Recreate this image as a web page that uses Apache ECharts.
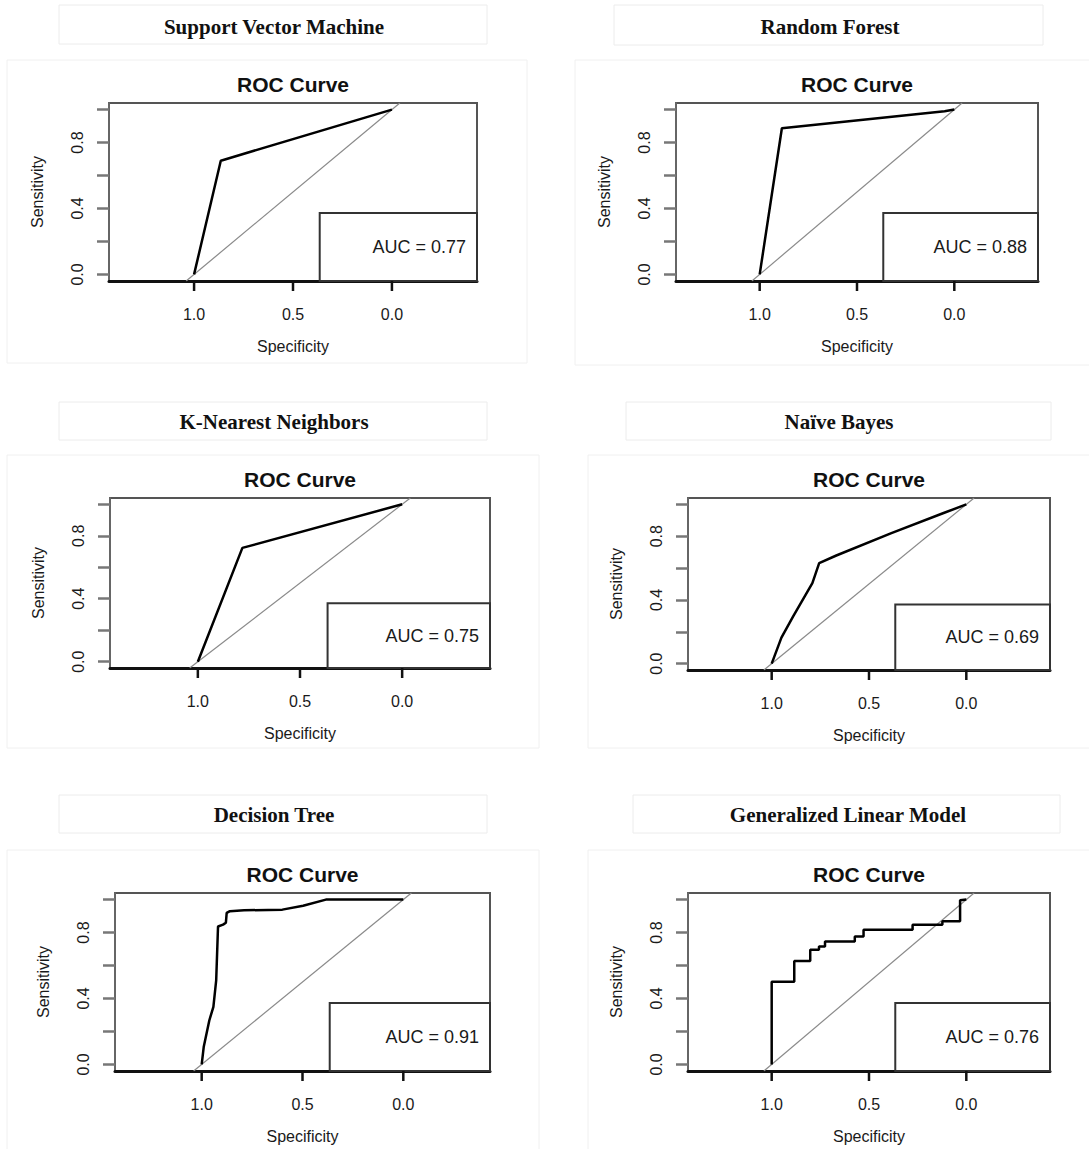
<!DOCTYPE html>
<html>
<head>
<meta charset="utf-8">
<script src="https://cdn.jsdelivr.net/npm/echarts@6/dist/echarts.min.js"></script>
<style>
html,body{margin:0;padding:0;background:#fff;}
#chart{width:1089px;height:1149px;}
</style>
</head>
<body>
<div id="chart"></div>
<script>
// ---------- data ----------
const modelNames = ['Support Vector Machine', 'Random Forest', 'K-Nearest Neighbors', 'Naïve Bayes', 'Decision Tree', 'Generalized Linear Model'];
const aucLabels = ['0.77', '0.88', '0.75', '0.69', '0.91', '0.76'];
const plotTitle = 'ROC Curve';
const xAxisTitle = 'Specificity';
const yAxisTitle = 'Sensitivity';

const svmSpec = [1.0, 0.865, 0.0];
const svmSens = [0.0, 0.69, 1.0];
const rfSpec = [1.0, 0.886, 0.05, 0.0];
const rfSens = [0.0, 0.887, 0.99, 1.0];
const knnSpec = [1.0, 0.782, 0.0];
const knnSens = [0.0, 0.723, 1.0];
const nbSpec = [1.0, 0.95, 0.889, 0.791, 0.756, 0.668, 0.385, 0.12, 0.0];
const nbSens = [0.0, 0.163, 0.298, 0.506, 0.631, 0.679, 0.819, 0.944, 1.0];
const dtSpec = [1.0, 0.99, 0.962, 0.942, 0.928, 0.919, 0.894, 0.88, 0.876, 0.86, 0.79, 0.6, 0.497, 0.384, 0.0];
const dtSens = [0.0, 0.105, 0.268, 0.349, 0.512, 0.837, 0.848, 0.86, 0.919, 0.93, 0.935, 0.939, 0.963, 1.0, 1.0];
const glmSpec = [1.0, 1.0, 0.884, 0.884, 0.802, 0.802, 0.757, 0.757, 0.726, 0.726, 0.573, 0.573, 0.528, 0.528, 0.276, 0.276, 0.123, 0.123, 0.032, 0.032, 0.0];
const glmSens = [0.0, 0.502, 0.502, 0.628, 0.628, 0.695, 0.695, 0.715, 0.715, 0.746, 0.746, 0.776, 0.776, 0.817, 0.817, 0.848, 0.848, 0.868, 0.868, 0.996, 1.0];

const chanceSpec = [1.04, -0.04];
const chanceSens = [-0.04, 1.04];

const xTickValues = [0, 0.5, 1.0];
const yTickValues = [0, 0.2, 0.4, 0.6, 0.8, 1.0];
const yLabelValues = [0, 0.4, 0.8];

const curves = [[svmSpec, svmSens], [rfSpec, rfSens], [knnSpec, knnSens], [nbSpec, nbSens], [dtSpec, dtSens], [glmSpec, glmSens]];

// ---------- layout (pixels) ----------
const layout = [
  {grid: [109, 103, 368, 178], title: [274, 27], box: [59, 5, 428, 39], panel: [7, 60, 520, 303]},
  {grid: [676, 103, 362, 178], title: [830, 27], box: [614, 5, 429, 40], panel: [575, 60, 520, 305]},
  {grid: [110, 498, 380, 170], title: [274, 422], box: [59, 402, 428, 38], panel: [7, 455, 532, 293]},
  {grid: [688, 498, 362, 172], title: [839, 422], box: [626, 402, 425, 38], panel: [588, 455, 520, 293]},
  {grid: [115, 893, 375, 178], title: [274, 815], box: [59, 795, 428, 38], panel: [7, 850, 532, 310]},
  {grid: [688, 893, 362, 178], title: [848, 815], box: [633, 795, 427, 38], panel: [588, 850, 520, 310]}
];

const textColor = '#1a1a1a';
const sansFont = '"Liberation Sans", Arial, sans-serif';
const X_MIN = -0.43, X_MAX = 1.43;
const Y_MIN = -0.04, Y_MAX = 1.04;

const grids = [], xAxes = [], yAxes = [], series = [], graphics = [];

layout.forEach((L, i) => {
  const [gl, gt, gw, gh] = L.grid;
  grids.push({left: gl, top: gt, width: gw, height: gh, show: true, borderColor: '#555', borderWidth: 2, backgroundColor: '#fff'});
  xAxes.push({
    gridIndex: i, type: 'value', min: X_MIN, max: X_MAX, inverse: true,
    name: xAxisTitle, nameLocation: 'middle', nameGap: 57,
    nameTextStyle: {fontFamily: sansFont, fontSize: 16, color: textColor},
    axisLine: {show: true, onZero: false, lineStyle: {color: '#111', width: 3}},
    axisTick: {show: false},
    axisLabel: {show: true, customValues: xTickValues, margin: 25, fontFamily: sansFont, fontSize: 16, color: textColor,
      formatter: v => Number(v).toFixed(1)},
    splitLine: {show: false}
  });
  yAxes.push({
    gridIndex: i, type: 'value', min: Y_MIN, max: Y_MAX,
    name: yAxisTitle, nameLocation: 'middle', nameGap: 64,
    nameTextStyle: {fontFamily: sansFont, fontSize: 16, color: textColor},
    axisLine: {show: true, onZero: false, lineStyle: {color: '#666', width: 2}},
    axisTick: {show: true, length: 12, customValues: yTickValues, lineStyle: {color: '#777', width: 2.5}},
    axisLabel: {show: true, customValues: yLabelValues, rotate: 90, margin: 24, fontFamily: sansFont, fontSize: 16, color: textColor,
      formatter: v => Number(v).toFixed(1)},
    splitLine: {show: false}
  });
  // chance diagonal + AUC box
  series.push({
    type: 'line', xAxisIndex: i, yAxisIndex: i, symbol: 'none', silent: true,
    data: chanceSpec.map((s, k) => [s, chanceSens[k]]),
    lineStyle: {color: '#8a8a8a', width: 1.2},
    z: 2,
    markArea: {
      silent: true,
      itemStyle: {color: '#fff', borderColor: '#333', borderWidth: 2},
      label: {show: true, position: 'insideRight', distance: 12, formatter: 'AUC = ' + aucLabels[i],
        fontFamily: sansFont, fontSize: 18, color: textColor},
      data: [[{coord: [0.365, Y_MIN]}, {coord: [X_MIN, 0.372]}]]
    }
  });
  // ROC curve
  const [sp, se] = curves[i];
  series.push({
    type: 'line', xAxisIndex: i, yAxisIndex: i, symbol: 'none', silent: true,
    data: sp.map((s, k) => [s, se[k]]),
    lineStyle: {color: '#000', width: 2.5},
    z: 3
  });
  // section title box and panel frame
  graphics.push({type: 'rect', shape: {x: L.panel[0], y: L.panel[1], width: L.panel[2], height: L.panel[3]},
    style: {fill: 'none', stroke: '#f0f0f0', lineWidth: 1}, z: -10});
  graphics.push({type: 'rect', shape: {x: L.box[0], y: L.box[1], width: L.box[2], height: L.box[3]},
    style: {fill: 'none', stroke: '#ececec', lineWidth: 1}, z: -10});
  graphics.push({type: 'text', x: L.title[0], y: L.title[1],
    style: {text: modelNames[i], textAlign: 'center', textVerticalAlign: 'middle',
      font: 'bold 21px "Liberation Serif", "Times New Roman", serif', fill: '#111'}});
  graphics.push({type: 'text', x: gl + gw / 2, y: gt - 19,
    style: {text: plotTitle, textAlign: 'center', textVerticalAlign: 'middle',
      font: 'bold 21px ' + sansFont, fill: '#111'}});
});

const chart = echarts.init(document.getElementById('chart'), null, {renderer: 'svg'});
chart.setOption({
  animation: false,
  backgroundColor: '#fff',
  grid: grids,
  xAxis: xAxes,
  yAxis: yAxes,
  series: series,
  graphic: graphics
});

// x-axis tick marks, positioned by the library's own axis scales
const tickGraphics = [];
layout.forEach((L, i) => {
  const yPix = chart.convertToPixel({yAxisIndex: i}, Y_MIN);
  xTickValues.forEach(v => {
    const xPix = chart.convertToPixel({xAxisIndex: i}, v);
    if (isFinite(xPix) && isFinite(yPix)) {
      tickGraphics.push({type: 'line', z: 100,
        shape: {x1: xPix, y1: yPix, x2: xPix, y2: yPix + 10},
        style: {stroke: '#111', lineWidth: 2.5}});
    }
  });
});
chart.setOption({graphic: graphics.concat(tickGraphics)});
</script>
</body>
</html>
